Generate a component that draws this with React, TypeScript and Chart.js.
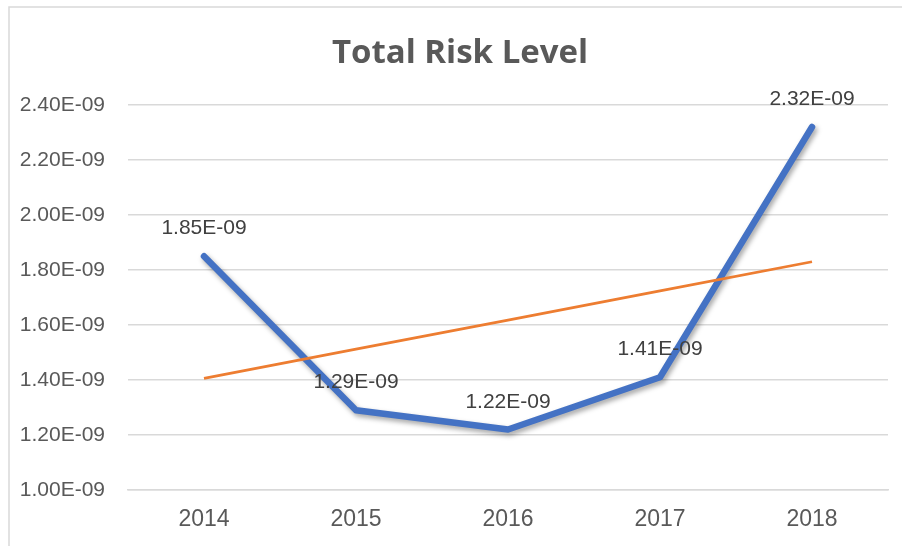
import React, { useEffect, useRef } from "react";
import { Chart, registerables } from "chart.js";

Chart.register(...registerables);

// Values are in units of 1E-09
const years = ["2014", "2015", "2016", "2017", "2018"];
const riskLevel = [1.85, 1.29, 1.22, 1.41, 2.32];
const trendLine = [1.406, 1.512, 1.618, 1.724, 1.83];
const yMin = 1.0;
const yMax = 2.4;
const yStep = 0.2;
const chartTitle = "Total Risk Level";

const fmt = (v: number) => v.toFixed(2) + "E-09";
const SMALL_FONT = '"Liberation Sans Narrow", "Liberation Sans", sans-serif';

const framePlugin = {
  id: "frame",
  beforeDraw(chart: any) {
    const ctx = chart.ctx;
    ctx.save();
    ctx.fillStyle = "#ffffff";
    ctx.fillRect(0, 0, chart.width, chart.height);
    ctx.strokeStyle = "#d9d9d9";
    ctx.lineWidth = 1.5;
    ctx.beginPath();
    ctx.moveTo(9, chart.height);
    ctx.lineTo(9, 7);
    ctx.lineTo(chart.width, 7);
    ctx.stroke();
    ctx.restore();
  },
};

const titlePlugin = {
  id: "titleText",
  afterDraw(chart: any) {
    const ctx = chart.ctx;
    ctx.save();
    ctx.font = 'bold 33px "Open Sans", sans-serif';
    ctx.fillStyle = "#595959";
    ctx.textAlign = "center";
    ctx.textBaseline = "alphabetic";
    ctx.fillText(chartTitle, 460, 63);
    ctx.restore();
  },
};

const shadowPlugin = {
  id: "lineShadow",
  beforeDatasetDraw(chart: any, args: any) {
    if (args.index !== 0) return;
    const ctx = chart.ctx;
    ctx.save();
    ctx.shadowColor = "rgba(0,0,0,0.35)";
    ctx.shadowBlur = 5;
    ctx.shadowOffsetX = 2;
    ctx.shadowOffsetY = 3;
  },
  afterDatasetDraw(chart: any, args: any) {
    if (args.index !== 0) return;
    chart.ctx.restore();
  },
};

const labelPlugin = {
  id: "dataLabels",
  afterDatasetsDraw(chart: any) {
    const ctx = chart.ctx;
    const meta = chart.getDatasetMeta(0);
    ctx.save();
    ctx.font = `21px ${SMALL_FONT}`;
    ctx.fillStyle = "#404040";
    ctx.textAlign = "center";
    ctx.textBaseline = "alphabetic";
    meta.data.forEach((pt: any, i: number) => {
      ctx.fillText(fmt(riskLevel[i]), pt.x, pt.y - 22);
    });
    ctx.restore();
  },
};

export default function App() {
  const ref = useRef<HTMLCanvasElement | null>(null);

  useEffect(() => {
    document.body.style.margin = "0";
    if (!ref.current) return;
    const chart = new Chart(ref.current, {
      type: "line",
      data: {
        labels: years,
        datasets: [
          {
            label: "Total Risk Level",
            data: riskLevel,
            borderColor: "#4472C4",
            backgroundColor: "#4472C4",
            borderWidth: 6.5,
            borderJoinStyle: "round",
            borderCapStyle: "round",
            pointRadius: 0,
            tension: 0,
            order: 1,
          },
          {
            label: "Linear trend",
            data: trendLine,
            borderColor: "#ED7D31",
            backgroundColor: "#ED7D31",
            borderWidth: 2.75,
            pointRadius: 0,
            tension: 0,
            order: 0,
          },
        ],
      },
      options: {
        responsive: false,
        animation: false,
        devicePixelRatio: 1,
        layout: { padding: { top: 105, right: 14, left: 0, bottom: 0 } },
        plugins: {
          legend: { display: false },
          title: { display: false },
          tooltip: { enabled: false },
        },
        scales: {
          x: {
            offset: true,
            grid: { display: false, drawTicks: false },
            border: { display: true, color: "#d9d9d9", width: 1.5 },
            ticks: {
              color: "#595959",
              font: { family: SMALL_FONT, size: 23 },
              padding: 16,
            },
            afterFit: (s: any) => {
              s.height = 56;
            },
          },
          y: {
            min: yMin,
            max: yMax,
            grid: { color: "#d9d9d9", lineWidth: 1.5, drawTicks: false },
            border: { display: false },
            ticks: {
              stepSize: yStep,
              color: "#595959",
              font: { family: SMALL_FONT, size: 21 },
              padding: 23,
              callback: (v: any) => fmt(Number(v)),
            },
            afterFit: (s: any) => {
              s.width = 128;
            },
          },
        },
      },
      plugins: [framePlugin, shadowPlugin, labelPlugin, titlePlugin],
    } as any);
    return () => chart.destroy();
  }, []);

  return (
    <div style={{ width: 902, height: 546 }}>
      <canvas ref={ref} width={902} height={546} />
    </div>
  );
}
